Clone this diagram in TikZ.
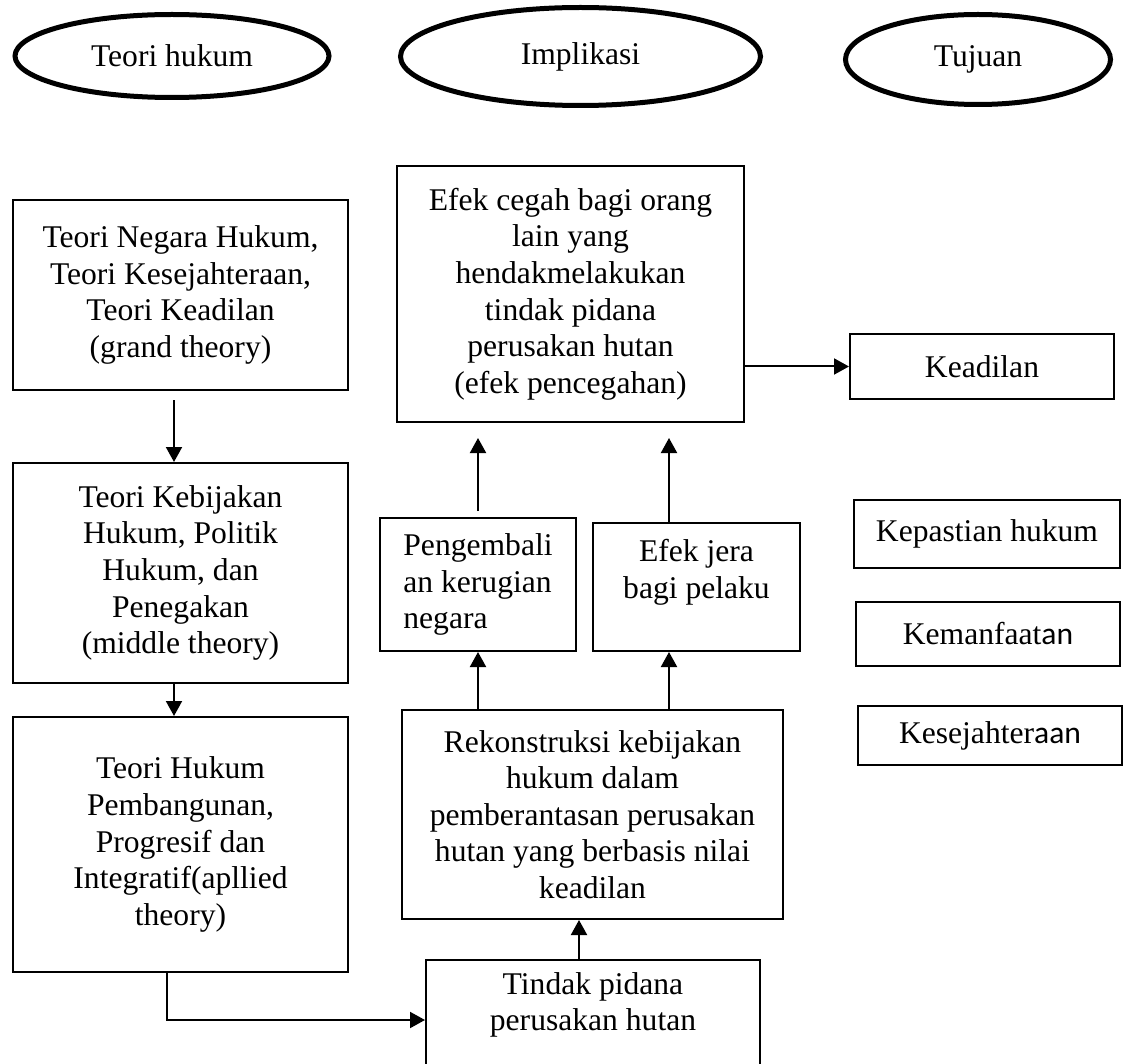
\documentclass[tikz,border=0pt]{standalone}
\usepackage{fontspec}
\setmainfont{Liberation Serif}
\newfontfamily\calfont{Carlito}
\usetikzlibrary{shapes.geometric,arrows.meta,calc}

\begin{document}
\begin{tikzpicture}[x=0.5pt, y=-0.5pt, >={Triangle[length=7.5pt,width=8pt]},
          font=\fontsize{15.8pt}{18.3pt}\selectfont,
          headoval/.style={ellipse, draw, line width=2.5pt, inner sep=0pt},
          plainbox/.style={rectangle, draw, line width=1pt, inner sep=0pt, align=center},
          link/.style={->, line width=1pt}]
        \useasboundingbox (0,0) rectangle (1125,1064);
        % header ovals
        \node[headoval, minimum width=157pt, minimum height=41.5pt] (hteori) at (172,56) {Teori hukum};
        \node[headoval, minimum width=180pt, minimum height=49pt] (himpl) at (580.5,56.5) {Implikasi};
        \node[headoval, minimum width=132.5pt, minimum height=45pt] (htuju) at (978,59.5) {Tujuan};
        % theory column
        \node[plainbox, minimum width=167.5pt, minimum height=95pt] (grand) at (180.5,295)
          {Teori Negara Hukum,\\Teori Kesejahteraan,\\Teori Keadilan\\(grand theory)};
        \node[plainbox, minimum width=167.5pt, minimum height=110pt] (middle) at (180.5,573)
          {Teori Kebijakan\\Hukum, Politik\\Hukum, dan\\Penegakan\\(middle theory)};
        \node[plainbox, minimum width=167.5pt, minimum height=127.5pt] (applied) at (180.5,844.5)
          {Teori Hukum\\Pembangunan,\\Progresif dan\\Integratif(apllied\\theory)};
        % implication column
        \node[plainbox, minimum width=173.5pt, minimum height=128pt] (cegah) at (570.5,294)
          {Efek cegah bagi orang\\lain yang\\hendakmelakukan\\tindak pidana\\perusakan hutan\\(efek pencegahan)};
        \node[plainbox, align=left, minimum width=98pt, minimum height=66.5pt] (kembali) at (478,584.5)
          {Pengembali\\an kerugian\\negara};
        \node[plainbox, minimum width=103.5pt, minimum height=64pt] (jera) at (696.5,587)
          {Efek jera\\bagi pelaku\\\mbox{}};
        \node[plainbox, minimum width=190.5pt, minimum height=104.5pt] (rekon) at (592.5,814.5)
          {Rekonstruksi kebijakan\\hukum dalam\\pemberantasan perusakan\\hutan yang berbasis nilai\\keadilan};
        \node[plainbox, minimum width=167pt, minimum height=60pt] (tindak) at (593,1020)
          {Tindak pidana\\perusakan hutan\\\mbox{}};
        % goals
        \node[plainbox, minimum width=132pt, minimum height=32.5pt] (keadilan) at (982,366.5) {Keadilan};
        \node[plainbox, minimum width=133pt, minimum height=34pt] (kepastian) at (987,534) {Kepastian hukum};
        \node[plainbox, minimum width=132pt, minimum height=32pt] (manfaat) at (988,634) {Kemanfaat{\calfont an}};
        \node[plainbox, minimum width=132pt, minimum height=29.5pt] (sejahtera) at (990,735.5) {Kesejahter{\calfont aan}};
        % helper points for off-centre arrows
        \coordinate (gx) at ($(grand.south)+(-6.5,0)$);
        \coordinate (mx) at ($(middle.south)+(-6.5,0)$);
        \coordinate (ax) at ($(applied.south)+(-13.5,0)$);
        \coordinate (jx) at ($(jera.south)+(-27.5,0)$);
        \coordinate (tx) at ($(tindak.north)+(-14,0)$);
        % arrows
        \draw[link] ($(gx)+(0,9)$) -- (middle.north -| gx);
        \draw[link] (mx) -- (applied.north -| mx);
        \draw[link] (ax) |- (tindak.west);
        \draw[link] (tx) -- (rekon.south -| tx);
        \draw[link] (rekon.north -| kembali.south) -- (kembali.south);
        \draw[link] (rekon.north -| jx) -- (jx);
        \draw[link] ($(kembali.north)+(0,-6)$) -- ($(cegah.south -| kembali.north)+(0,15)$);
        \draw[link] (jera.north -| jx) -- ($(cegah.south -| jx)+(0,15)$);
        \draw[link] (cegah.east |- keadilan.west) -- (keadilan.west);
      \end{tikzpicture}
\end{document}
